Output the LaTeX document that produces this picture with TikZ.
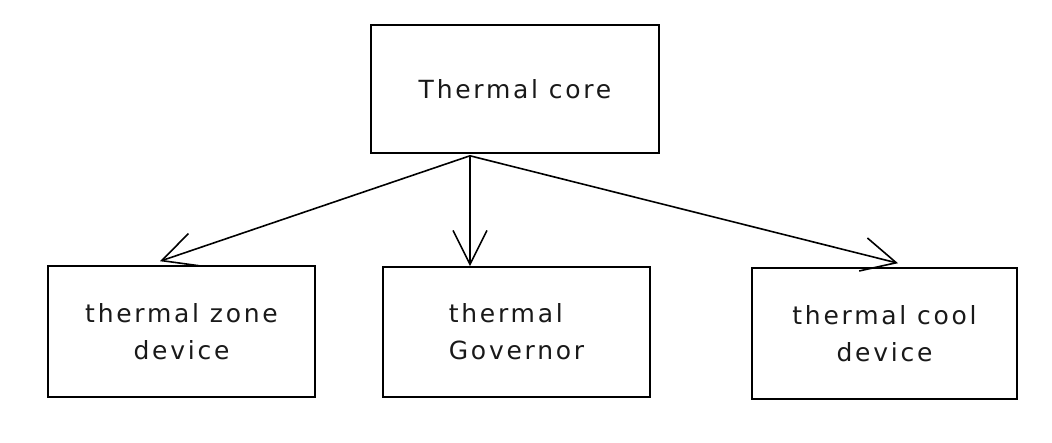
\documentclass[tikz,border=0pt]{standalone}
\usepackage{fontspec}
\setmainfont{DejaVu Sans}[LetterSpace=11]
\usetikzlibrary{arrows.meta}
\tikzset{
  box/.style={draw=black, line width=1.6pt, inner sep=0pt, font=\fontsize{25}{37}\selectfont, text=black!90},
  conn/.style={draw=black, line width=1.6pt, -{Straight Barb[length=34pt,width=34pt,line width=1.6pt]}}
}
\begin{document}
\begin{tikzpicture}[x=1pt,y=-1pt]
\useasboundingbox (0,0) rectangle (1052,443);
\node[box, minimum width=288pt, minimum height=128pt] (top) at (515,89) {Thermal core};
\node[box, minimum width=267pt, minimum height=131pt, align=center] (lb) at (181.5,331.5) {thermal zone\\device};
\node[box, minimum width=267pt, minimum height=130pt, align=left] (mb) at (516.5,332) {thermal\\Governor};
\node[box, minimum width=265pt, minimum height=131pt, align=center] (rb) at (884.5,333.5) {thermal cool\\device};
\coordinate (src) at ([xshift=-45pt,yshift=-2pt]top.south);
\draw[conn] (src) -- ([xshift=-21.5pt,yshift=4pt]lb.north);
\draw[conn] (src) -- ([xshift=-46.5pt]mb.north);
\draw[conn] (src) -- ([xshift=13.5pt,yshift=4pt]rb.north);
\end{tikzpicture}
\end{document}
